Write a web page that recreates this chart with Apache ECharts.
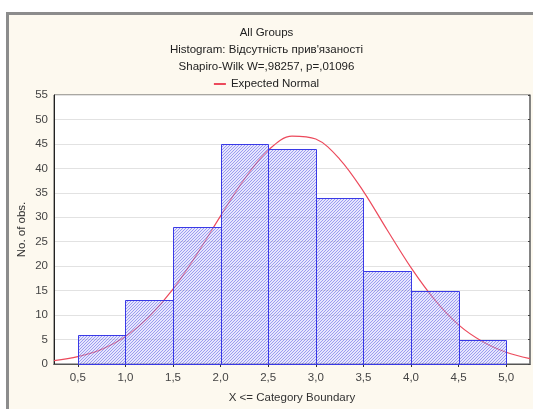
<!DOCTYPE html>
<html><head><meta charset="utf-8">
<script src="https://cdn.jsdelivr.net/npm/echarts@6/dist/echarts.min.js"></script>
<style>
html,body{margin:0;padding:0;background:#fff;}
#frame{position:absolute;left:6px;top:12px;width:600px;height:500px;box-sizing:border-box;border-left:3px solid #8c8c8c;border-top:3px solid #8c8c8c;background:#fdf9ef;}
#chart{position:absolute;left:0;top:0;width:533px;height:409px;}
</style></head>
<body><div id="frame"></div><div id="chart"></div>
<script>
// Histogram bins (lower bound, upper bound, count)
const binLower = [0.5, 1.0, 1.5, 2.0, 2.5, 3.0, 3.5, 4.0, 4.5];
const binUpper = [1.0, 1.5, 2.0, 2.5, 3.0, 3.5, 4.0, 4.5, 5.0];
const binCounts = [6, 13, 28, 45, 44, 34, 19, 15, 5];
// Expected normal curve
const curveX = [0.25, 0.5, 0.75, 1.0, 1.25, 1.5, 1.75, 2.0, 2.25, 2.5, 2.75, 3.0, 3.25, 3.5, 3.75, 4.0, 4.25, 4.5, 4.75, 5.0, 5.25];
const curveY = [0.7, 1.5, 3.0, 5.6, 9.7, 15.3, 22.4, 30.3, 37.8, 43.7, 46.6, 46.0, 41.9, 35.3, 27.4, 19.7, 13.1, 8.0, 4.6, 2.4, 1.1];
const xTicks = [0.5, 1.0, 1.5, 2.0, 2.5, 3.0, 3.5, 4.0, 4.5, 5.0];

const pc = document.createElement('canvas');
pc.width = 3; pc.height = 3;
const g = pc.getContext('2d');
g.fillStyle = 'rgba(200,200,250,0.45)';
g.fillRect(0,0,3,3);
g.fillStyle = 'rgba(90,90,230,0.6)';
g.clearRect(2,0,1,1); g.fillRect(2,0,1,1);
g.clearRect(1,1,1,1); g.fillRect(1,1,1,1);
g.clearRect(0,2,1,1); g.fillRect(0,2,1,1);
const hatch = {image: pc, repeat: 'repeat'};

const barData = binLower.map((l, i) => [l, binUpper[i], binCounts[i]]);
const lineData = curveX.map((x, i) => [x, curveY[i]]);
const fmt = v => v.toFixed(1).replace('.', ',');
const font = 'Liberation Sans, Arial, sans-serif';
const ts = {fontSize: 11.5, fontWeight: 'normal', color: '#222', fontFamily: font};

const chart = echarts.init(document.getElementById('chart'));
chart.setOption({
  backgroundColor: 'transparent',
  animation: false,
  textStyle: {fontFamily: font},
  title: [
    {text: 'All Groups', left: 'center', top: 22, textStyle: ts},
    {text: "Histogram: Відсутність прив'язаності", left: 'center', top: 39, textStyle: ts},
    {text: 'Shapiro-Wilk W=,98257, p=,01096', left: 'center', top: 56, textStyle: ts}
  ],
  legend: {
    data: ['Expected Normal'], top: 73, left: 'center', itemWidth: 12, itemHeight: 2, icon: 'rect', itemGap: 4,
    textStyle: {fontSize: 11.5, color: '#222', fontFamily: font}
  },
  grid: {left: 54, right: 3, top: 95, bottom: 44, show: true, borderColor: '#555', borderWidth: 1, backgroundColor: '#fff'},
  xAxis: [
    {type: 'value', min: 0.25, max: 5.25, position: 'bottom',
     name: 'X <= Category Boundary', nameLocation: 'middle', nameGap: 28, nameMoveOverlap: false,
     nameTextStyle: {fontSize: 11.5, color: '#333', fontFamily: font},
     axisLine: {lineStyle: {color: '#222'}},
     axisTick: {show: false, customValues: xTicks},
     axisLabel: {customValues: xTicks, formatter: fmt, fontSize: 11.5, color: '#444', margin: 8, fontFamily: font},
     splitLine: {show: false}},
    {type: 'value', min: 0.25, max: 5.25, position: 'top',
     axisLine: {lineStyle: {color: '#555'}},
     axisTick: {show: true, inside: true, length: 3, customValues: xTicks, lineStyle: {color: '#333'}},
     axisLabel: {show: false, customValues: xTicks},
     splitLine: {show: false}}
  ],
  yAxis: [
    {type: 'value', min: 0, max: 55, interval: 5,
     name: 'No. of obs.', nameLocation: 'middle', nameGap: 26, nameMoveOverlap: false,
     nameTextStyle: {fontSize: 11.5, color: '#333', fontFamily: font},
     axisLine: {show: true, lineStyle: {color: '#222'}},
     axisTick: {show: false},
     axisLabel: {fontSize: 11.5, color: '#444', margin: 6, fontFamily: font},
     splitLine: {show: true, lineStyle: {color: '#e2e2e2'}}},
    {type: 'value', min: 0, max: 55, interval: 5, position: 'right',
     axisLine: {show: true, lineStyle: {color: '#777', width: 1.5}},
     axisTick: {show: true, inside: true, length: 2, lineStyle: {color: '#444'}},
     axisLabel: {show: false}, splitLine: {show: false}}
  ],
  series: [
    {type: 'line', name: 'Expected Normal', data: lineData, smooth: 0.35, showSymbol: false, symbol: 'none',
     z: 1, lineStyle: {color: '#ec4a5c', width: 1.2}, itemStyle: {color: '#ec4a5c'}},
    {type: 'custom', name: 'Histogram', data: barData, z: 2,
     encode: {x: [0, 1], y: 2},
     renderItem: function (params, api) {
       const p0 = api.coord([api.value(0), api.value(2)]);
       const p1 = api.coord([api.value(1), 0]);
       return {type: 'rect',
         shape: {x: Math.round(p0[0]) + 0.5, y: Math.round(p0[1]) + 0.5, width: Math.round(p1[0]) - Math.round(p0[0]), height: Math.round(p1[1]) - Math.round(p0[1])},
         style: {fill: hatch, stroke: '#3a3ae6', lineWidth: 1}};
     }}
  ]
});
</script></body></html>
